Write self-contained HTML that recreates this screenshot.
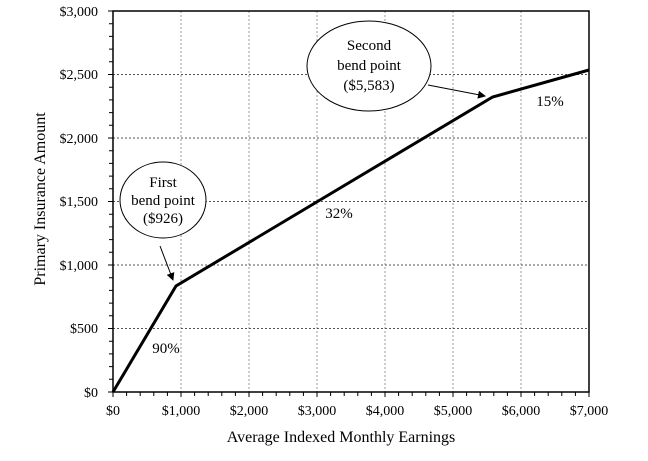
<!DOCTYPE html>
<html><head><style>body{margin:0;background:#fff}svg{display:block}text{font-family:"Liberation Serif",serif;fill:#000}</style></head><body>
<svg width="648" height="461" viewBox="0 0 648 461">
<defs><marker id="ah" markerWidth="8" markerHeight="8" refX="7" refY="4" orient="auto"><path d="M0,0 L8,4 L0,8 z" fill="#000"/></marker></defs>
<g stroke="#999" stroke-dasharray="2,2" stroke-width="1">
<line x1="181" y1="11" x2="181" y2="392"/><line x1="249" y1="11" x2="249" y2="392"/><line x1="317" y1="11" x2="317" y2="392"/><line x1="385" y1="11" x2="385" y2="392"/><line x1="453" y1="11" x2="453" y2="392"/><line x1="521" y1="11" x2="521" y2="392"/>
</g>
<g stroke="#555" stroke-dasharray="2,2" stroke-width="1">
<line x1="113" y1="74.5" x2="589" y2="74.5"/><line x1="113" y1="138" x2="589" y2="138"/><line x1="113" y1="201.5" x2="589" y2="201.5"/><line x1="113" y1="265" x2="589" y2="265"/><line x1="113" y1="328.5" x2="589" y2="328.5"/>
</g>
<rect x="113" y="11" width="476" height="381" fill="none" stroke="#000" stroke-width="1.5"/>
<polyline points="113,392 176,286 492.6,97 589,70" fill="none" stroke="#000" stroke-width="3"/>
<ellipse cx="163" cy="200" rx="43" ry="38" fill="#fff" stroke="#000"/>
<ellipse cx="369" cy="66" rx="62" ry="45" fill="#fff" stroke="#000"/>
<line x1="160" y1="246" x2="173" y2="280" stroke="#000" marker-end="url(#ah)"/>
<line x1="428" y1="85" x2="485" y2="96" stroke="#000" marker-end="url(#ah)"/>
<g font-size="15" text-anchor="middle">
<text x="163" y="187">First</text><text x="163" y="205">bend point</text><text x="163" y="223">($926)</text>
<text x="369" y="50">Second</text><text x="369" y="70">bend point</text><text x="369" y="90">($5,583)</text>
<text x="166" y="353">90%</text><text x="339" y="218">32%</text><text x="550" y="106">15%</text>
</g>
<g font-size="14" text-anchor="end">
<text x="98" y="16">$3,000</text><text x="98" y="79">$2,500</text><text x="98" y="143">$2,000</text><text x="98" y="206">$1,500</text><text x="98" y="270">$1,000</text><text x="98" y="333">$500</text><text x="98" y="397">$0</text>
</g>
<g font-size="14" text-anchor="middle">
<text x="113" y="415">$0</text><text x="181" y="415">$1,000</text><text x="249" y="415">$2,000</text><text x="317" y="415">$3,000</text><text x="385" y="415">$4,000</text><text x="453" y="415">$5,000</text><text x="521" y="415">$6,000</text><text x="589" y="415">$7,000</text>
</g>
<text x="341" y="442" font-size="16" text-anchor="middle">Average Indexed Monthly Earnings</text>
<text x="0" y="0" font-size="16" text-anchor="middle" transform="translate(45,199) rotate(-90)">Primary Insurance Amount</text>
<path stroke="#000" stroke-width="1" d="M113,392v5M126.6,392v4M140.2,392v4M153.8,392v4M167.4,392v4M181,392v5M194.6,392v4M208.2,392v4M221.8,392v4M235.4,392v4M249,392v5M262.6,392v4M276.2,392v4M289.8,392v4M303.4,392v4M317,392v5M330.6,392v4M344.2,392v4M357.8,392v4M371.4,392v4M385,392v5M398.6,392v4M412.2,392v4M425.8,392v4M439.4,392v4M453,392v5M466.6,392v4M480.2,392v4M493.8,392v4M507.4,392v4M521,392v5M534.6,392v4M548.2,392v4M561.8,392v4M575.4,392v4M589,392v5
M108,11h5M109,23.7h4M109,36.4h4M109,49.1h4M109,61.8h4M108,74.5h5M109,87.2h4M109,99.9h4M109,112.6h4M109,125.3h4M108,138h5M109,150.7h4M109,163.4h4M109,176.1h4M109,188.8h4M108,201.5h5M109,214.2h4M109,226.9h4M109,239.6h4M109,252.3h4M108,265h5M109,277.7h4M109,290.4h4M109,303.1h4M109,315.8h4M108,328.5h5M109,341.2h4M109,353.9h4M109,366.6h4M109,379.3h4M108,392h5"/>
</svg>
</body></html>
